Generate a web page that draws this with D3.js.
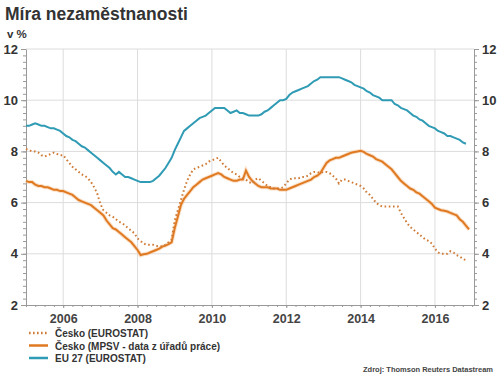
<!DOCTYPE html>
<html><head><meta charset="utf-8">
<script src="https://cdn.jsdelivr.net/npm/d3@7"></script>
<style>
body{margin:0;background:#fff;}
svg{display:block;font-family:"Liberation Sans",Arial,sans-serif;}
</style></head>
<body><svg id="c" width="500" height="375"></svg>
<script>
// Monthly data, starting January 2005
const startYear = 2005;
const euEurostat = [
 9.0,9.0,9.05,9.1,9.05,9.0,9.0,8.95,8.9,8.9,8.85,8.8,
 8.7,8.6,8.55,8.45,8.4,8.3,8.2,8.15,8.05,7.95,7.85,7.75,
 7.65,7.55,7.45,7.35,7.2,7.1,7.2,7.1,7.0,7.0,6.95,6.9,
 6.85,6.8,6.8,6.8,6.8,6.85,6.95,7.05,7.2,7.35,7.55,7.75,
 8.05,8.3,8.55,8.8,8.9,9.0,9.1,9.2,9.3,9.35,9.4,9.5,
 9.6,9.7,9.7,9.7,9.7,9.6,9.5,9.55,9.6,9.5,9.5,9.45,
 9.4,9.4,9.4,9.4,9.45,9.55,9.6,9.7,9.8,9.9,10.0,10.0,
 10.05,10.2,10.3,10.35,10.4,10.45,10.5,10.55,10.65,10.75,10.8,10.9,
 10.9,10.9,10.9,10.9,10.9,10.9,10.85,10.8,10.75,10.7,10.6,10.55,
 10.5,10.45,10.35,10.3,10.2,10.15,10.1,10.0,10.0,10.0,10.0,9.85,
 9.8,9.7,9.65,9.6,9.5,9.4,9.35,9.25,9.2,9.1,9.0,8.95,
 8.9,8.8,8.75,8.7,8.6,8.6,8.55,8.5,8.45,8.35,8.3
];
const czMpsv = [
 6.85,6.8,6.8,6.7,6.65,6.65,6.6,6.6,6.55,6.5,6.5,6.45,
 6.45,6.4,6.35,6.3,6.2,6.1,6.05,6.0,5.95,5.9,5.8,5.7,
 5.6,5.5,5.3,5.15,5.0,4.95,4.85,4.75,4.65,4.55,4.45,4.3,
 4.15,3.95,3.98,4.0,4.05,4.1,4.15,4.2,4.28,4.32,4.38,4.45,
 5.0,5.45,5.9,6.15,6.3,6.45,6.6,6.7,6.8,6.9,6.95,7.0,
 7.05,7.1,7.15,7.1,7.0,6.95,6.9,6.85,6.85,6.9,6.9,7.25,
 7.0,6.85,6.75,6.65,6.6,6.6,6.6,6.55,6.55,6.55,6.5,6.5,
 6.5,6.55,6.6,6.65,6.7,6.75,6.8,6.85,6.9,7.0,7.05,7.15,
 7.35,7.55,7.65,7.7,7.75,7.75,7.8,7.85,7.9,7.95,7.98,8.0,
 8.02,7.98,7.9,7.85,7.8,7.7,7.65,7.6,7.5,7.4,7.3,7.15,
 7.0,6.85,6.75,6.65,6.55,6.5,6.4,6.35,6.25,6.15,6.05,5.95,
 5.8,5.75,5.7,5.68,5.65,5.6,5.55,5.5,5.35,5.25,5.1,4.95
];
const czEurostat = [
 8.1,8.05,8.0,8.0,7.95,7.85,7.8,7.85,7.9,7.95,7.9,7.85,
 7.85,7.7,7.55,7.4,7.3,7.2,7.1,7.05,6.95,6.8,6.6,6.35,
 5.95,5.7,5.6,5.5,5.45,5.35,5.25,5.2,5.1,5.0,4.9,4.8,
 4.6,4.5,4.4,4.35,4.35,4.35,4.3,4.3,4.28,4.35,4.45,4.55,
 5.3,5.7,6.1,6.5,6.85,7.1,7.3,7.35,7.4,7.45,7.5,7.6,
 7.65,7.7,7.75,7.6,7.45,7.35,7.25,7.15,7.1,7.0,6.95,6.9,
 6.8,6.75,6.9,6.95,6.85,6.75,6.65,6.6,6.55,6.55,6.55,6.6,
 6.75,6.9,6.95,6.95,6.95,7.0,7.0,7.05,7.15,7.2,7.2,7.15,
 7.2,7.2,7.15,7.05,6.95,6.75,6.9,6.9,6.85,6.8,6.75,6.7,
 6.65,6.55,6.4,6.3,6.15,6.0,5.9,5.85,5.85,5.85,5.85,5.85,
 5.85,5.6,5.4,5.2,5.05,4.95,4.85,4.75,4.65,4.55,4.5,4.4,
 4.2,4.05,4.0,4.0,4.0,4.1,4.05,3.95,3.9,3.8,3.75
];
const yearTicks = [2006,2008,2010,2012,2014,2016];
const yTicks = [2,4,6,8,10,12];
const legendLabels = ["Česko (EUROSTAT)","Česko (MPSV - data z úřadů práce)","EU 27 (EUROSTAT)"];
const title = "Míra nezaměstnanosti";
const unitLabel = "v %";
const sourceLabel = "Zdroj: Thomson Reuters Datastream";

const colors = {teal:"#2f9bb4", orange:"#e07a22", dotted:"#cf7a35"};
const svg = d3.select("#c");
const L=26, R=474, T=49, B=305;
const x = d3.scaleLinear().domain([2005, 2017.05]).range([L,R]);
const y = d3.scaleLinear().domain([2,12]).range([B,T]);

// gridlines
svg.append("g").selectAll("line").data(yTicks.slice(1)).join("line")
  .attr("x1",L).attr("x2",R).attr("y1",d=>y(d)).attr("y2",d=>y(d))
  .attr("stroke","#dcdcdc").attr("stroke-width",1);
svg.append("g").selectAll("line").data(yearTicks).join("line")
  .attr("x1",d=>x(d)).attr("x2",d=>x(d)).attr("y1",T).attr("y2",B)
  .attr("stroke","#dcdcdc").attr("stroke-width",1);

// minor ticks
const yMinor = d3.range(2,12.001,0.25);
const xMinor = d3.range(2005,2017.01,0.25);
const axCol = "#999";
function styleAxis(g){ g.select(".domain").attr("stroke",axCol); g.selectAll(".tick line").attr("stroke",axCol); }
svg.append("g").attr("transform",`translate(${L},0)`)
  .call(d3.axisLeft(y).tickValues(yMinor).tickSize(3).tickFormat("").tickSizeOuter(0)).call(styleAxis);
svg.append("g").attr("transform",`translate(${R},0)`)
  .call(d3.axisRight(y).tickValues(yMinor).tickSize(3).tickFormat("").tickSizeOuter(0)).call(styleAxis);
svg.append("g").attr("transform",`translate(0,${B})`)
  .call(d3.axisBottom(x).tickValues(xMinor).tickSize(2).tickFormat("").tickSizeOuter(0)).call(styleAxis);

// tick labels
const gl = svg.append("g").attr("transform",`translate(${L},0)`)
  .call(d3.axisLeft(y).tickValues(yTicks).tickSize(5).tickPadding(3).tickFormat(d3.format("d")));
gl.select(".domain").remove(); gl.selectAll(".tick line").attr("stroke",axCol);
gl.selectAll("text").attr("fill","#333").attr("font-weight","bold").attr("font-size","13px").attr("font-family","Liberation Sans, Arial, sans-serif");
const gr = svg.append("g").attr("transform",`translate(${R},0)`)
  .call(d3.axisRight(y).tickValues(yTicks).tickSize(5).tickPadding(3).tickFormat(d3.format("d")));
gr.select(".domain").remove(); gr.selectAll(".tick line").attr("stroke",axCol);
gr.selectAll("text").attr("fill","#333").attr("font-weight","bold").attr("font-size","13px").attr("font-family","Liberation Sans, Arial, sans-serif");
const gb = svg.append("g").attr("transform",`translate(0,${B})`)
  .call(d3.axisBottom(x).tickValues(yearTicks).tickSize(3).tickPadding(6).tickFormat(d3.format("d")));
gb.select(".domain").remove(); gb.selectAll(".tick line").attr("stroke",axCol);
gb.selectAll("text").attr("fill","#444").attr("font-weight","bold").attr("font-size","12.5px").attr("font-family","Liberation Sans, Arial, sans-serif");

// lines
const line = d3.line().x((d,i)=>x(startYear+i/12)).y(d=>y(d)).curve(d3.curveLinear);
svg.append("path").datum(czMpsv).attr("d",line).attr("fill","none")
  .attr("stroke","#f6c79b").attr("stroke-width",4).attr("stroke-opacity",0.55);
svg.append("path").datum(czMpsv).attr("d",line).attr("fill","none")
  .attr("stroke",colors.orange).attr("stroke-width",2);
svg.append("path").datum(czEurostat).attr("d",line).attr("fill","none")
  .attr("stroke",colors.dotted).attr("stroke-width",2).attr("stroke-dasharray","1.6,2.6");
svg.append("path").datum(euEurostat).attr("d",line).attr("fill","none")
  .attr("stroke",colors.teal).attr("stroke-width",2);

// title & unit
svg.append("text").attr("x",5).attr("y",20).text(title)
  .attr("font-size","17.5px").attr("font-weight","bold").attr("fill","#333");
svg.append("text").attr("x",7).attr("y",38).text(unitLabel)
  .attr("font-size","11.5px").attr("font-weight","bold").attr("fill","#333");

// legend
const legStyles = [
  {c:colors.dotted, dash:"1.6,2.4"},
  {c:colors.orange, dash:null},
  {c:colors.teal, dash:null}
];
const lg = svg.append("g");
legendLabels.forEach((t,i)=>{
  const yy = 333 + i*12.5;
  lg.append("line").attr("x1",29).attr("x2",48).attr("y1",yy).attr("y2",yy)
    .attr("stroke",legStyles[i].c).attr("stroke-width",2.5)
    .attr("stroke-dasharray",legStyles[i].dash);
  lg.append("text").attr("x",55).attr("y",yy+4).text(t)
    .attr("font-size","10px").attr("font-weight","bold").attr("fill","#333");
});

svg.append("text").attr("x",493).attr("y",372).attr("text-anchor","end").text(sourceLabel)
  .attr("font-size","7.5px").attr("font-weight","bold").attr("fill","#444");
</script></body></html>
